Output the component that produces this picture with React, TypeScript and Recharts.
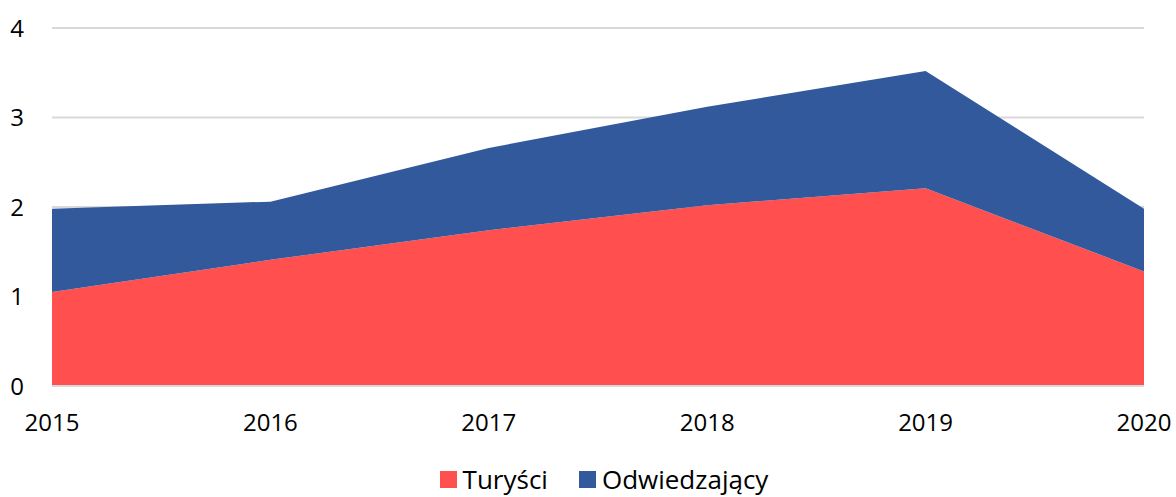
import { AreaChart, Area, XAxis, YAxis, CartesianGrid, Legend } from "recharts";

const years = ["2015", "2016", "2017", "2018", "2019", "2020"];
const turysci = [1.05, 1.41, 1.74, 2.02, 2.21, 1.28];
const odwiedzajacy = [0.93, 0.65, 0.92, 1.1, 1.31, 0.7];
const yTicks = [0, 1, 2, 3, 4];

const SERIES = [
    { key: "turysci", name: "Turyści", color: "#FF4F4F" },
    { key: "odwiedzajacy", name: "Odwiedzający", color: "#32599B" },
];

const data = years.map((year, i) => ({
    year,
    turysci: turysci[i],
    odwiedzajacy: odwiedzajacy[i],
}));

const FONT = "'Open Sans', sans-serif";

const LegendContent = () => (
    <div
        style={{
            display: "flex",
            justifyContent: "center",
            gap: 31,
            paddingLeft: 64,
            fontFamily: FONT,
        }}
    >
        {SERIES.map((s) => (
            <div key={s.key} style={{ display: "flex", alignItems: "center", gap: 6 }}>
                <div style={{ width: 17, height: 17, backgroundColor: s.color }} />
                <span style={{ fontSize: 26, color: "#000", lineHeight: "30px" }}>{s.name}</span>
            </div>
        ))}
    </div>
);

const App = () => {
    return (
        <div style={{ position: "absolute", left: 0, top: 0, background: "#fff" }}>
            <AreaChart
                width={1176}
                height={497}
                data={data}
                margin={{ top: 28, right: 32, left: 0, bottom: 0 }}
            >
                <CartesianGrid stroke="#d9d9d9" strokeWidth={2} vertical={false} />
                <XAxis
                    dataKey="year"
                    tick={{ fontSize: 24, fill: "#000", fontFamily: FONT }}
                    axisLine={{ stroke: "#d9d9d9", strokeWidth: 2 }}
                    tickLine={false}
                    tickSize={0}
                    tickMargin={28}
                    height={82}
                    interval={0}
                />
                <YAxis
                    domain={[0, 4]}
                    ticks={yTicks}
                    tick={{ fontSize: 24, fill: "#000", fontFamily: FONT }}
                    axisLine={false}
                    tickLine={false}
                    tickSize={0}
                    tickMargin={28}
                    width={52}
                />
                <Legend
                    verticalAlign="bottom"
                    height={29}
                    wrapperStyle={{ bottom: 4 }}
                    content={<LegendContent />}
                />
                {SERIES.map((s) => (
                    <Area
                        key={s.key}
                        type="linear"
                        dataKey={s.key}
                        name={s.name}
                        stackId="a"
                        fill={s.color}
                        fillOpacity={1}
                        stroke="none"
                        isAnimationActive={false}
                    />
                ))}
            </AreaChart>
        </div>
    );
};

export default App;
